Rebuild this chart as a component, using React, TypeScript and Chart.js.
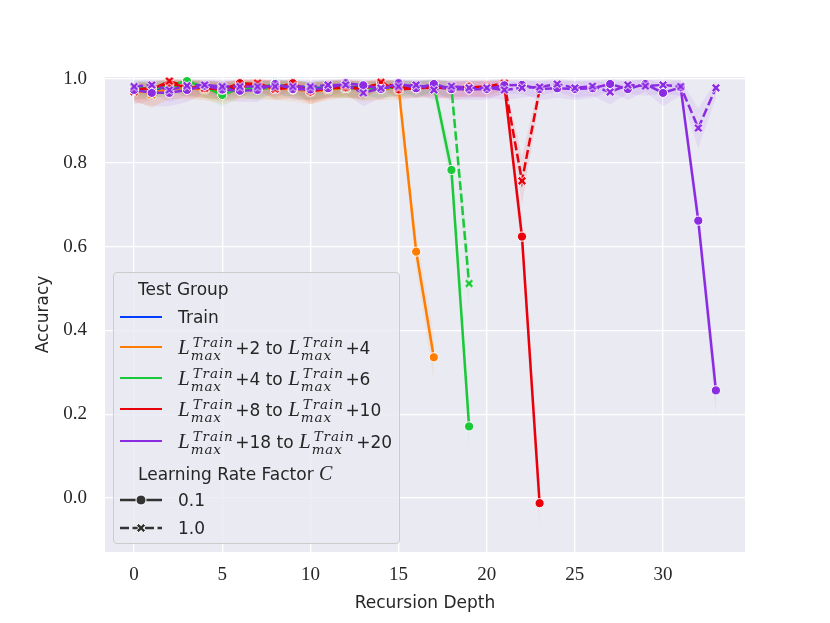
import React, { useEffect, useRef } from "react";
import { Chart, registerables } from "chart.js";
Chart.register(...registerables);

// ---------------- data ----------------
const depths = [0, 1, 2, 3, 4, 5, 6, 7, 8, 9, 10, 11, 12, 13, 14, 15, 16, 17, 18, 19, 20, 21, 22, 23, 24, 25, 26, 27, 28, 29, 30, 31, 32, 33];
const xTicks = [0, 5, 10, 15, 20, 25, 30];
const yTicks = [0.0, 0.2, 0.4, 0.6, 0.8, 1.0];

// Train
const trainC01 = [0.980, 0.975, 0.980, 0.978, 0.982, 0.976, 0.980, 0.982, 0.979, 0.981, 0.978, 0.980, 0.982, 0.979];
const trainC10 = [0.978, 0.980, 0.976, 0.981, 0.979, 0.982, 0.978, 0.980, 0.977, 0.981, 0.979, 0.980, 0.978, 0.981];

// +2 to +4
const p2C01 = [0.972, 0.968, 0.975, 0.980, 0.978, 0.970, 0.976, 0.980, 0.978, 0.975, 0.972, 0.978, 0.980, 0.975, 0.978, 0.980, 0.588, 0.336];
const p2C01Lo = [0.945, 0.935, 0.950, 0.955, 0.950, 0.940, 0.950, 0.955, 0.950, 0.945, 0.940, 0.950, 0.955, 0.945, 0.950, 0.960, 0.545, 0.280];
const p2C01Hi = [0.992, 0.990, 0.995, 1.000, 0.997, 0.992, 0.995, 1.000, 0.997, 0.995, 0.993, 0.997, 1.000, 0.995, 0.997, 0.998, 0.630, 0.390];
const p2C10 = [0.975, 0.962, 0.980, 0.978, 0.975, 0.972, 0.980, 0.978, 0.976, 0.978, 0.970, 0.975, 0.978, 0.976, 0.978, 0.975];
const p2C10Lo = [0.950, 0.930, 0.955, 0.950, 0.950, 0.945, 0.955, 0.950, 0.950, 0.955, 0.940, 0.950, 0.955, 0.950, 0.950, 0.950];
const p2C10Hi = [0.993, 0.985, 0.997, 0.995, 0.993, 0.992, 0.997, 0.995, 0.994, 0.995, 0.990, 0.993, 0.995, 0.994, 0.995, 0.993];

// +4 to +6
const p4C01 = [0.978, 0.975, 0.985, 0.995, 0.980, 0.962, 0.978, 0.976, 0.990, 0.978, 0.975, 0.978, 0.980, 0.976, 0.978, 0.980, 0.978, 0.985, 0.783, 0.171];
const p4C01Lo = [0.955, 0.950, 0.965, 0.985, 0.955, 0.935, 0.955, 0.950, 0.975, 0.955, 0.950, 0.955, 0.955, 0.950, 0.955, 0.960, 0.955, 0.965, 0.740, 0.120];
const p4C01Hi = [0.995, 0.993, 0.998, 1.000, 0.996, 0.985, 0.995, 0.993, 1.000, 0.995, 0.993, 0.995, 0.997, 0.993, 0.995, 0.997, 0.995, 0.998, 0.825, 0.225];
const p4C10 = [0.980, 0.978, 0.982, 0.980, 0.978, 0.975, 0.980, 0.978, 0.978, 0.980, 0.976, 0.980, 0.978, 0.980, 0.978, 0.982, 0.980, 0.985, 0.980, 0.512];
const p4C10Lo = [0.960, 0.955, 0.960, 0.960, 0.955, 0.950, 0.960, 0.955, 0.955, 0.960, 0.950, 0.960, 0.955, 0.960, 0.955, 0.960, 0.960, 0.965, 0.955, 0.455];
const p4C10Hi = [0.995, 0.995, 0.997, 0.995, 0.995, 0.993, 0.995, 0.995, 0.995, 0.995, 0.993, 0.995, 0.995, 0.995, 0.995, 0.997, 0.995, 0.998, 0.995, 0.570];

// +8 to +10
const p8C01 = [0.975, 0.978, 0.990, 0.980, 0.978, 0.975, 0.990, 0.988, 0.978, 0.990, 0.970, 0.978, 0.980, 0.978, 0.990, 0.975, 0.978, 0.980, 0.978, 0.982, 0.978, 0.985, 0.624, -0.012];
const p8C01Lo = [0.950, 0.955, 0.975, 0.955, 0.955, 0.950, 0.975, 0.970, 0.955, 0.975, 0.940, 0.955, 0.955, 0.955, 0.975, 0.950, 0.955, 0.955, 0.955, 0.960, 0.955, 0.965, 0.580, -0.070];
const p8C01Hi = [0.993, 0.995, 1.000, 0.997, 0.995, 0.993, 1.000, 1.000, 0.995, 1.000, 0.990, 0.995, 0.997, 0.995, 1.000, 0.993, 0.995, 0.997, 0.995, 0.997, 0.995, 0.998, 0.670, 0.040];
const p8C10 = [0.970, 0.975, 0.995, 0.982, 0.978, 0.976, 0.980, 0.990, 0.976, 0.980, 0.972, 0.978, 0.982, 0.975, 0.992, 0.980, 0.978, 0.982, 0.976, 0.980, 0.982, 0.990, 0.757, 0.975];
const p8C10Lo = [0.940, 0.950, 0.985, 0.960, 0.955, 0.950, 0.955, 0.975, 0.950, 0.955, 0.945, 0.955, 0.960, 0.950, 0.980, 0.955, 0.955, 0.960, 0.950, 0.955, 0.960, 0.975, 0.700, 0.950];
const p8C10Hi = [0.990, 0.993, 1.000, 0.997, 0.995, 0.994, 0.995, 1.000, 0.994, 0.995, 0.991, 0.995, 0.997, 0.993, 1.000, 0.995, 0.995, 0.997, 0.994, 0.995, 0.997, 1.000, 0.815, 0.993];

// +18 to +20
const p18C01 = [0.974, 0.967, 0.967, 0.974, 0.984, 0.975, 0.972, 0.974, 0.988, 0.976, 0.975, 0.978, 0.990, 0.985, 0.976, 0.990, 0.978, 0.988, 0.976, 0.975, 0.976, 0.985, 0.986, 0.976, 0.978, 0.976, 0.978, 0.988, 0.976, 0.988, 0.967, 0.980, 0.662, 0.257];
const p18C01Lo = [0.945, 0.935, 0.935, 0.945, 0.965, 0.950, 0.945, 0.945, 0.970, 0.950, 0.950, 0.955, 0.975, 0.965, 0.950, 0.975, 0.955, 0.970, 0.950, 0.950, 0.950, 0.965, 0.965, 0.950, 0.955, 0.950, 0.955, 0.970, 0.950, 0.970, 0.935, 0.960, 0.630, 0.205];
const p18C01Hi = [0.993, 0.990, 0.990, 0.993, 0.998, 0.994, 0.992, 0.993, 1.000, 0.994, 0.994, 0.995, 1.000, 0.998, 0.994, 1.000, 0.995, 1.000, 0.994, 0.994, 0.994, 0.998, 0.998, 0.994, 0.995, 0.994, 0.995, 1.000, 0.994, 1.000, 0.990, 0.997, 0.700, 0.305];
const p18C10 = [0.982, 0.986, 0.974, 0.984, 0.986, 0.982, 0.982, 0.982, 0.982, 0.982, 0.982, 0.986, 0.986, 0.967, 0.978, 0.982, 0.986, 0.974, 0.983, 0.979, 0.979, 0.974, 0.979, 0.981, 0.988, 0.979, 0.983, 0.969, 0.986, 0.983, 0.986, 0.982, 0.883, 0.979];
const p18C10Lo = [0.960, 0.965, 0.945, 0.960, 0.965, 0.960, 0.960, 0.960, 0.960, 0.960, 0.960, 0.965, 0.965, 0.935, 0.955, 0.960, 0.965, 0.950, 0.960, 0.955, 0.955, 0.950, 0.955, 0.960, 0.970, 0.955, 0.960, 0.940, 0.965, 0.960, 0.965, 0.960, 0.835, 0.955];
const p18C10Hi = [0.997, 0.998, 0.993, 0.997, 0.998, 0.997, 0.997, 0.997, 0.997, 0.997, 0.997, 0.998, 0.998, 0.990, 0.995, 0.997, 0.998, 0.993, 0.997, 0.995, 0.995, 0.993, 0.995, 0.996, 1.000, 0.995, 0.997, 0.990, 0.998, 0.997, 0.998, 0.997, 0.930, 0.995];

const groupOffsets = [["+2", "+4"], ["+4", "+6"], ["+8", "+10"], ["+18", "+20"]];
const cLevels = ["0.1", "1.0"];

// ---------------- styles ----------------
const COL = {
  train: "#023EFF",
  p2: "#FF7C00",
  p4: "#1AC938",
  p8: "#E8000B",
  p18: "#8B2BE2",
};
const groupColors = [COL.p2, COL.p4, COL.p8, COL.p18];
const TXT = "#262626";
const SANS = '"DejaVu Sans", sans-serif';
const SERIF = '"Liberation Serif", serif';
const MSERIF = '"DejaVu Serif", serif';

function rgba(hex: string, a: number) {
  const n = parseInt(hex.slice(1), 16);
  return `rgba(${(n >> 16) & 255},${(n >> 8) & 255},${n & 255},${a})`;
}

function makeX(color: string) {
  const c = document.createElement("canvas");
  c.width = 14;
  c.height = 14;
  const g = c.getContext("2d")!;
  const L = 4.9, w = 1.6;
  const pts = [
    [w, w], [w, L], [-w, L], [-w, w], [-L, w], [-L, -w],
    [-w, -w], [-w, -L], [w, -L], [w, -w], [L, -w], [L, w],
  ];
  const r = Math.SQRT1_2;
  g.beginPath();
  pts.forEach(([px, py], i) => {
    const x = 7 + (px - py) * r;
    const y = 7 + (px + py) * r;
    if (i === 0) g.moveTo(x, y);
    else g.lineTo(x, y);
  });
  g.closePath();
  g.fillStyle = color;
  g.fill();
  g.strokeStyle = "#ffffff";
  g.lineWidth = 1;
  g.stroke();
  return c;
}

function pts(values: number[]) {
  return values.map((v, i) => ({ x: depths[i], y: v }));
}

function lineDs(color: string, values: number[], dashed: boolean, order: number) {
  return {
    data: pts(values),
    borderColor: color,
    backgroundColor: color,
    borderWidth: 2.5,
    borderDash: dashed ? [9, 3.5] : [],
    pointStyle: dashed ? makeX(color) : "circle",
    pointRadius: dashed ? 5 : 4.6,
    pointBorderColor: "#ffffff",
    pointBorderWidth: 1,
    pointBackgroundColor: color,
    fill: false,
    tension: 0,
    order,
  };
}

function bandDs(color: string, lo: number[], hi: number[], order: number) {
  return [
    {
      data: pts(lo),
      borderColor: "rgba(0,0,0,0)",
      borderWidth: 0,
      pointRadius: 0,
      fill: false,
      tension: 0,
      order,
    },
    {
      data: pts(hi),
      borderColor: "rgba(0,0,0,0)",
      borderWidth: 0,
      pointRadius: 0,
      backgroundColor: rgba(color, 0.08),
      fill: "-1",
      tension: 0,
      order,
    },
  ];
}

const bgPlugin = {
  id: "bgArea",
  beforeDraw(chart: any) {
    const { ctx, chartArea: a } = chart;
    ctx.save();
    ctx.fillStyle = "#EAEAF2";
    ctx.fillRect(a.left, a.top, a.right - a.left, a.bottom - a.top);
    ctx.restore();
  },
};

function MathL() {
  return (
    <span style={{ whiteSpace: "nowrap" }}>
      <span style={{ fontFamily: SERIF, fontStyle: "italic", fontSize: 21 }}>L</span>
      <span
        style={{
          display: "inline-block",
          verticalAlign: -6,
          lineHeight: "13px",
          fontFamily: MSERIF,
          fontStyle: "italic",
          fontSize: 13.5,
          letterSpacing: 0.9,
          marginLeft: 1,
          marginRight: 1.5,
        }}
      >
        <span style={{ display: "block", paddingLeft: 2 }}>Train</span>
        <span style={{ display: "block" }}>max</span>
      </span>
    </span>
  );
}

function Legend() {
  const rowBase: React.CSSProperties = {
    position: "absolute",
    height: 26,
    lineHeight: "26px",
    fontFamily: SANS,
    fontSize: 17,
    color: TXT,
    whiteSpace: "pre",
  };
  const centers = [44, 74, 105, 136, 168];
  const styleCenters = [227, 254.5];
  return (
    <div
      style={{
        position: "absolute",
        left: 105,
        top: 264,
        width: 287,
        height: 272,
        boxSizing: "border-box",
        border: "1px solid #cccccc",
        borderRadius: 4,
        background: "rgba(234,234,242,0.8)",
      }}
    >
      <div style={{ ...rowBase, left: 24, top: 16 - 13 }}>Test Group</div>
      <div style={{ position: "absolute", left: 6, top: centers[0] - 1.25, width: 42, height: 2.5, background: COL.train }} />
      <div style={{ ...rowBase, left: 64, top: centers[0] - 13 }}>Train</div>
      {groupOffsets.map((g, i) => (
        <React.Fragment key={i}>
          <div style={{ position: "absolute", left: 6, top: centers[i + 1] - 1.25, width: 42, height: 2.5, background: groupColors[i] }} />
          <div style={{ ...rowBase, left: 64, top: centers[i + 1] - 13 }}>
            <MathL />
            {g[0] + " to "}
            <MathL />
            {g[1]}
          </div>
        </React.Fragment>
      ))}
      <div style={{ ...rowBase, left: 24, top: 199.5 - 13 }}>
        {"Learning Rate Factor "}
        <span style={{ fontFamily: SERIF, fontStyle: "italic", fontSize: 20 }}>C</span>
      </div>
      {cLevels.map((c, i) => (
        <React.Fragment key={c}>
          <svg style={{ position: "absolute", left: 6, top: styleCenters[i] - 7 }} width={42} height={14}>
            <line x1={0} y1={7} x2={42} y2={7} stroke="#333333" strokeWidth={2.5} strokeDasharray={i === 1 ? "9 3.5" : undefined} />
            {i === 0 ? (
              <circle cx={21} cy={7} r={5} fill="#333333" stroke="#ffffff" strokeWidth={1} />
            ) : (
              <path
                d="M21 7 m-4.6 -2.3 l2.3 -2.3 l2.3 2.3 l2.3 -2.3 l2.3 2.3 l-2.3 2.3 l2.3 2.3 l-2.3 2.3 l-2.3 -2.3 l-2.3 2.3 l-2.3 -2.3 l2.3 -2.3 z"
                fill="#333333"
                stroke="#ffffff"
                strokeWidth={1}
              />
            )}
          </svg>
          <div style={{ ...rowBase, left: 64, top: styleCenters[i] - 13 }}>{c}</div>
        </React.Fragment>
      ))}
    </div>
  );
}

export default function App() {
  const ref = useRef<HTMLCanvasElement>(null);
  useEffect(() => {
    if (!ref.current) return;
    const datasets: any[] = [
      // lines (lower order drawn on top)
      lineDs(COL.p18, p18C10, true, 1),
      lineDs(COL.p18, p18C01, false, 2),
      lineDs(COL.p8, p8C10, true, 3),
      lineDs(COL.p8, p8C01, false, 4),
      lineDs(COL.p4, p4C10, true, 5),
      lineDs(COL.p4, p4C01, false, 6),
      lineDs(COL.p2, p2C10, true, 7),
      lineDs(COL.p2, p2C01, false, 8),
      lineDs(COL.train, trainC10, true, 9),
      lineDs(COL.train, trainC01, false, 10),
      ...bandDs(COL.p2, p2C01Lo, p2C01Hi, 20),
      ...bandDs(COL.p2, p2C10Lo, p2C10Hi, 21),
      ...bandDs(COL.p4, p4C01Lo, p4C01Hi, 22),
      ...bandDs(COL.p4, p4C10Lo, p4C10Hi, 23),
      ...bandDs(COL.p8, p8C01Lo, p8C01Hi, 24),
      ...bandDs(COL.p8, p8C10Lo, p8C10Hi, 25),
      ...bandDs(COL.p18, p18C01Lo, p18C01Hi, 26),
      ...bandDs(COL.p18, p18C10Lo, p18C10Hi, 27),
    ];
    const chart = new Chart(ref.current, {
      type: "line",
      data: { datasets },
      plugins: [bgPlugin],
      options: {
        animation: false,
        responsive: false,
        events: [],
        layout: { padding: { left: 0, top: 69, right: 77, bottom: 0 } },
        plugins: { legend: { display: false }, tooltip: { enabled: false } },
        scales: {
          x: {
            type: "linear",
            min: -1.65,
            max: 34.65,
            afterBuildTicks: (s: any) => {
              s.ticks = xTicks.map((v) => ({ value: v }));
            },
            afterFit: (s: any) => {
              s.height = 63;
            },
            ticks: {
              padding: 12,
              color: TXT,
              font: { family: SERIF, size: 19 },
              callback: (v: any) => String(v),
            },
            grid: { color: "#ffffff", lineWidth: 1.3, drawTicks: false },
            border: { display: false },
            title: {
              display: true,
              text: "Recursion Depth",
              color: TXT,
              font: { family: SANS, size: 17 },
              padding: { top: 0, bottom: 1 },
            },
          },
          y: {
            type: "linear",
            min: -0.1286,
            max: 1.0048,
            afterBuildTicks: (s: any) => {
              s.ticks = yTicks.map((v) => ({ value: v }));
            },
            afterFit: (s: any) => {
              s.width = 97;
            },
            ticks: {
              padding: 18,
              color: TXT,
              font: { family: SERIF, size: 19 },
              callback: (v: any) => Number(v).toFixed(1),
            },
            grid: { color: "#ffffff", lineWidth: 1.3, drawTicks: false },
            border: { display: false },
            title: {
              display: true,
              text: "Accuracy",
              color: TXT,
              font: { family: SANS, size: 17 },
              padding: { top: 25, bottom: 0 },
            },
          },
        },
      } as any,
    });
    return () => chart.destroy();
  }, []);
  return (
    <div style={{ position: "relative", width: 814, height: 607 }}>
      <canvas ref={ref} width={814} height={607} style={{ position: "absolute", left: 0, top: 0, width: 814, height: 607 }} />
      <Legend />
    </div>
  );
}
